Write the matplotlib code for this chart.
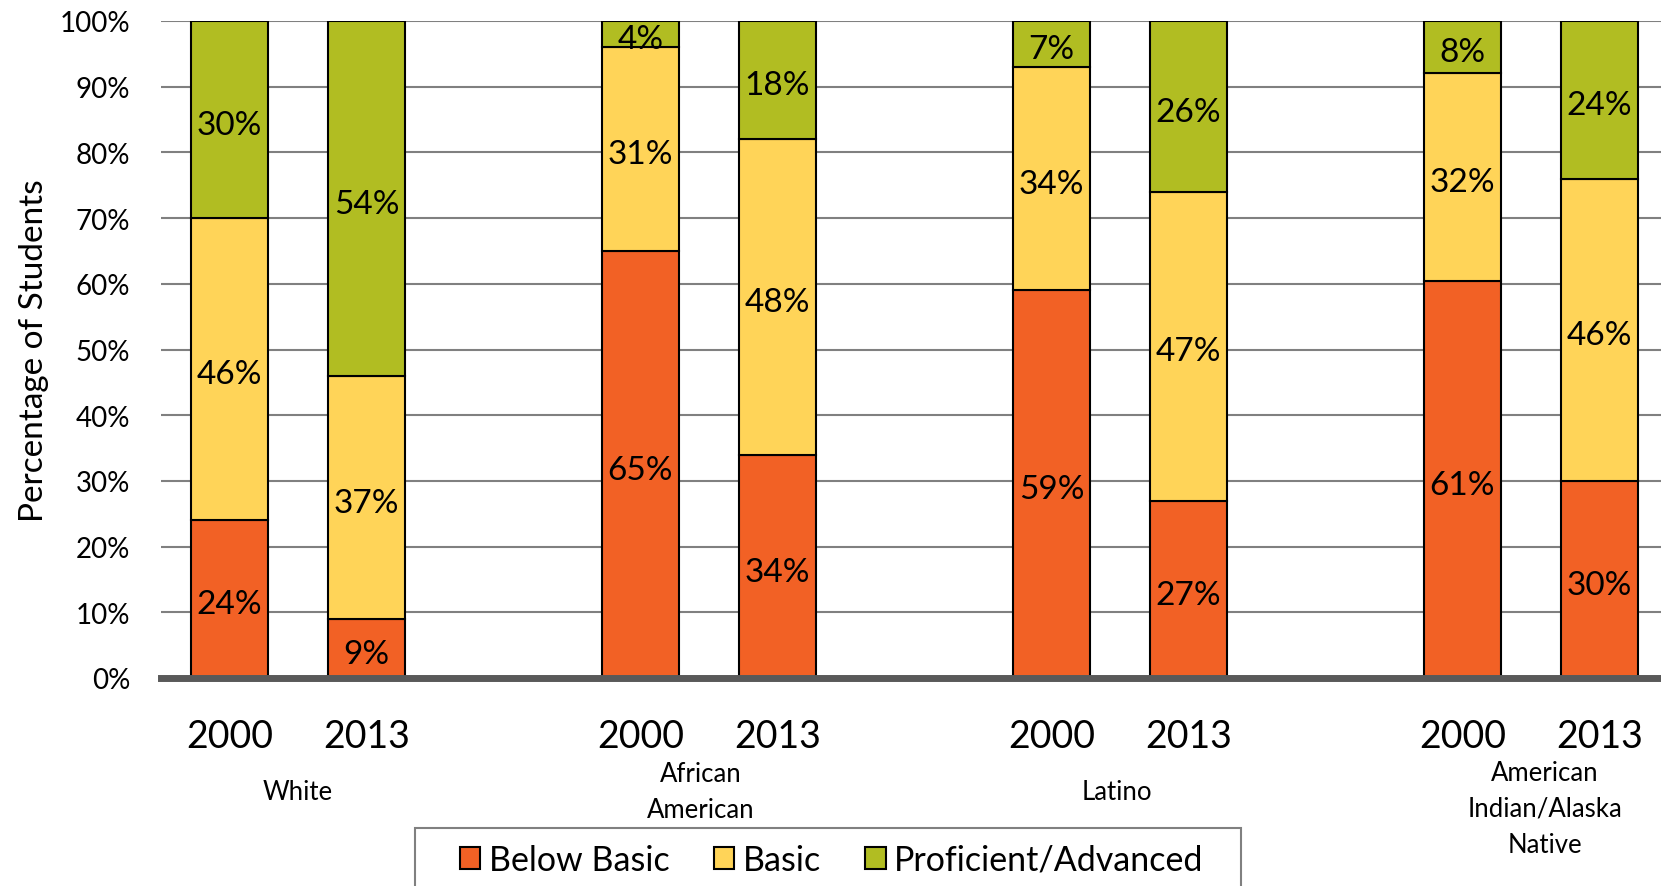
import numpy as np
import matplotlib.pyplot as plt
from matplotlib.patches import Rectangle
from matplotlib.transforms import blended_transform_factory

plt.rcParams['font.family'] = ['Lato', 'DejaVu Sans']

# Data (percent of students per bar)
groups = ['White', 'African\nAmerican', 'Latino', 'American\nIndian/Alaska\nNative']
years = ['2000', '2013']
below_basic = [24, 9, 65, 34, 59, 27, 61, 30]
basic = [46, 37, 31, 48, 34, 47, 32, 46]
proficient = [30, 54, 4, 18, 7, 26, 8, 24]
series_names = ['Below Basic', 'Basic', 'Proficient/Advanced']
colors = ['#F26125', '#FFD458', '#B1BD22']

# bar slots: two bars per group, one empty slot between groups
positions = [0, 1, 3, 4, 6, 7, 9, 10]
group_centers = [0.5, 3.44, 6.48, 9.6]
group_label_y = [-0.172, -0.172, -0.172, -0.198]

vals = np.array([below_basic, basic, proficient], dtype=float)
pct = vals / vals.sum(axis=0) * 100  # 100% stacked, like Excel

fig = plt.figure(figsize=(16.61, 8.87), dpi=100)
ax = fig.add_axes([161 / 1661, 1 - 679 / 887, 1500 / 1661, 657 / 887])

bottom = np.zeros(len(positions))
for i in range(3):
    ax.bar(positions, pct[i], bottom=bottom, width=0.565, color=colors[i],
           edgecolor='black', linewidth=1.5, label=series_names[i], zorder=3)
    for x, b, h, v in zip(positions, bottom, pct[i], vals[i]):
        ax.text(x, b + h / 2 - 0.8, f'{v:.0f}%', ha='center', va='center',
                fontsize=24, zorder=4)
    bottom += pct[i]

ax.set_ylim(0, 100)
ax.set_xlim(-0.5, 10.45)
ax.set_yticks(np.arange(0, 101, 10))
ax.set_yticklabels([f'{t}%' for t in range(0, 101, 10)], fontsize=20)
ax.set_xticks(positions)
ax.set_xticklabels(years * 4, fontsize=27)
ax.tick_params(axis='y', length=0, pad=22)
ax.tick_params(axis='x', length=0, pad=29)
ax.yaxis.grid(True, color='#808080', linewidth=1.5, zorder=0)
ax.set_axisbelow(True)
for s in ['left', 'right', 'top']:
    ax.spines[s].set_visible(False)
ax.spines['bottom'].set_color('#595959')
ax.spines['bottom'].set_linewidth(5)
ax.spines['bottom'].set_zorder(5)

ax.set_ylabel('Percentage of Students', fontsize=24, labelpad=8)

trans = blended_transform_factory(ax.transData, ax.transAxes)
for gx, gy, name in zip(group_centers, group_label_y, groups):
    ax.text(gx, gy, name, transform=trans, ha='center', va='center',
            fontsize=18.5, linespacing=1.55)

# legend box runs off the bottom of the figure, like the original
fig.patches.append(Rectangle((415 / 1661, -0.02), 826 / 1661, 58 / 887 + 0.02,
                             transform=fig.transFigure, fill=False,
                             edgecolor='#808080', linewidth=1.5))
fig.legend(loc='center left', bbox_to_anchor=(460 / 1661, 1 - 861 / 887),
           ncol=3, fontsize=24.5, frameon=False, borderaxespad=0, borderpad=0,
           handlelength=0.6, handleheight=0.6, handletextpad=0.25,
           columnspacing=1.3)

fig.savefig('out.png', dpi=100)
